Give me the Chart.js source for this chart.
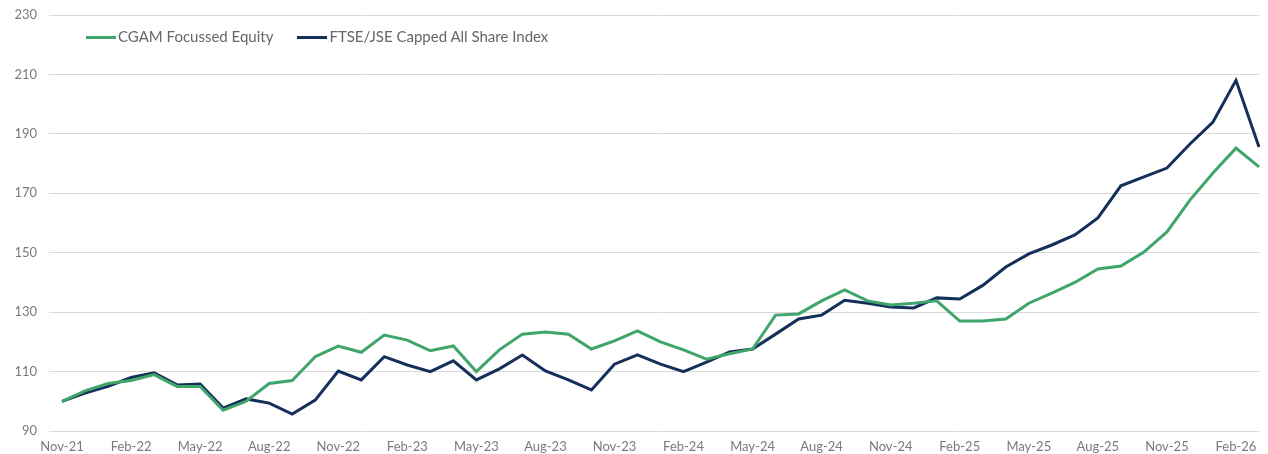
<!DOCTYPE html>
<html>
<head>
<meta charset="utf-8">
<script src="https://cdn.jsdelivr.net/npm/chart.js@4"></script>
<style>
  html, body { margin: 0; padding: 0; background: #fff; }
  #wrap { position: relative; width: 1268px; height: 454px; }
  #legend { position: absolute; left: 86px; top: 27px; font-family: Lato, sans-serif; font-size: 15px; color: #666; white-space: nowrap; }
  #legend span.item { display: inline-block; margin-right: 24px; }
  #legend span.swatch { display: inline-block; width: 30px; height: 3px; vertical-align: middle; margin-right: 2px; position: relative; top: -1px; }
</style>
</head>
<body>
<div id="wrap">
  <canvas id="perfChart" width="1268" height="454"></canvas>
  <div id="legend"></div>
</div>
<script>
// Meses (mensual, de Nov-21 a Mar-26)
const months = [
  "Nov-21", "Dec-21", "Jan-22", "Feb-22", "Mar-22", "Apr-22", "May-22", "Jun-22", "Jul-22", "Aug-22", "Sep-22", "Oct-22",
  "Nov-22", "Dec-22", "Jan-23", "Feb-23", "Mar-23", "Apr-23", "May-23", "Jun-23", "Jul-23", "Aug-23", "Sep-23", "Oct-23",
  "Nov-23", "Dec-23", "Jan-24", "Feb-24", "Mar-24", "Apr-24", "May-24", "Jun-24", "Jul-24", "Aug-24", "Sep-24", "Oct-24",
  "Nov-24", "Dec-24", "Jan-25", "Feb-25", "Mar-25", "Apr-25", "May-25", "Jun-25", "Jul-25", "Aug-25", "Sep-25", "Oct-25",
  "Nov-25", "Dec-25", "Jan-26", "Feb-26", "Mar-26"
];

// CGAM Focussed Equity
const cgamValues = [
  100, 103.5, 106, 107, 109, 105, 105, 97, 100, 106, 107, 115,
  118.6, 116.5, 122.3, 120.6, 117, 118.6, 110, 117.3, 122.6, 123.3, 122.6, 117.6,
  120.3, 123.7, 120, 117.3, 114.2, 116, 117.6, 129, 129.4, 133.8, 137.5, 133.8,
  132.4, 133, 133.8, 127, 127, 127.7, 133, 136.4, 140, 144.5, 145.5, 150.2,
  157, 167.7, 176.8, 185.2, 178.9
];

// FTSE/JSE Capped All Share Index
const indexValues = [
  100, 102.8, 105, 108, 109.6, 105.5, 105.8, 97.7, 100.8, 99.4, 95.7, 100.4,
  110.2, 107.2, 115, 112.2, 110, 113.6, 107.2, 110.9, 115.6, 110.2, 107.2, 103.8,
  112.5, 115.6, 112.5, 110, 113.2, 116.6, 117.6, 122.6, 127.7, 129, 134, 133,
  131.7, 131.4, 134.8, 134.4, 139, 145.2, 149.6, 152.6, 156, 161.7, 172.5, 175.5,
  178.5, 186.6, 194, 208, 185.6
];

const yTicks = [90, 110, 130, 150, 170, 190, 210, 230];

const series = [
  { label: "CGAM Focussed Equity", data: cgamValues, color: "#3fa56a" },
  { label: "FTSE/JSE Capped All Share Index", data: indexValues, color: "#14305a" }
];

// Leyenda en HTML (dentro del área del gráfico, como en el original)
const legendEl = document.getElementById("legend");
series.forEach(s => {
  const item = document.createElement("span");
  item.className = "item";
  item.innerHTML = '<span class="swatch" style="background:' + s.color + '"></span>' + s.label;
  legendEl.appendChild(item);
});

const ctx = document.getElementById("perfChart").getContext("2d");
const perfChart = new Chart(ctx, {
  type: "line",
  data: {
    labels: months,
    datasets: series.map(s => ({
      label: s.label,
      data: s.data,
      borderColor: s.color,
      backgroundColor: s.color,
      borderWidth: 3,
      pointRadius: 0,
      tension: 0,
      fill: false
    }))
  },
  options: {
    responsive: false,
    animation: false,
    layout: { padding: { top: 15, right: 9, bottom: 0, left: 0 } },
    plugins: {
      legend: { display: false },
      tooltip: { enabled: false }
    },
    scales: {
      x: {
        afterFit: scale => { scale.height = 23; },
        grid: { display: false, drawTicks: false },
        border: { display: false },
        ticks: {
          autoSkip: false,
          maxRotation: 0,
          padding: 8,
          color: "#7a7a7a",
          font: { family: "Lato", size: 13 },
          callback: function (val, idx) {
            return idx % 3 === 0 ? months[idx] : null;
          }
        }
      },
      y: {
        min: 90,
        max: 230,
        afterFit: scale => { scale.width = 62; scale.paddingTop = 0; scale.paddingBottom = 0; },
        afterBuildTicks: scale => { scale.ticks = yTicks.map(v => ({ value: v })); },
        grid: { color: "#d9d9d9", lineWidth: 1, drawTicks: true, tickLength: 13, tickColor: "#d9d9d9" },
        border: { display: false },
        ticks: {
          padding: 12,
          color: "#7a7a7a",
          font: { family: "Lato", size: 13 }
        }
      }
    }
  }
});
</script>
</body>
</html>
